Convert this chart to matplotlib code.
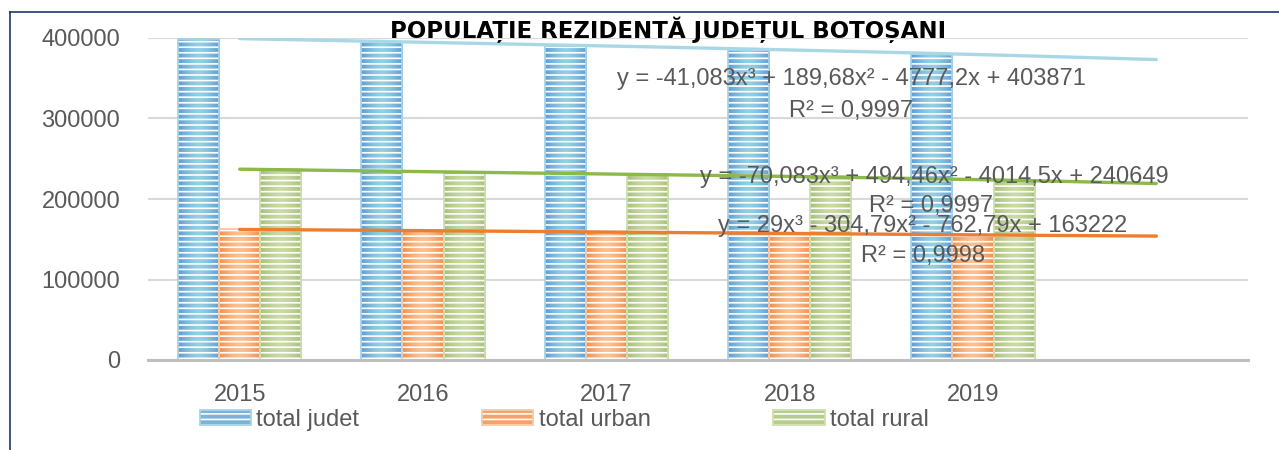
import matplotlib
matplotlib.use('Agg')
import matplotlib.pyplot as plt
from matplotlib.patches import Patch
from matplotlib.lines import Line2D
from matplotlib.colors import LinearSegmentedColormap
import numpy as np

plt.rcParams['font.family'] = ['Liberation Sans', 'DejaVu Sans']
plt.rcParams['hatch.linewidth'] = 1.2

# ---------------- data ----------------
years = ['2015', '2016', '2017', '2018', '2019']
total_judet = [399242, 394747, 390137, 385168, 379592]
total_urban = [162183, 160709, 158974, 157150, 155413]
total_rural = [237059, 234037, 231163, 228017, 224178]
series_names = ['total judet', 'total urban', 'total rural']
eq_judet = 'y = -41,083x³ + 189,68x² - 4777,2x + 403871'
eq_rural = 'y = -70,083x³ + 494,46x² - 4014,5x + 240649'
eq_urban = 'y = 29x³ - 304,79x² - 762,79x + 163222'
r2_judet = 'R² = 0,9997'
r2_rural = 'R² = 0,9997'
r2_urban = 'R² = 0,9998'
yticks = [0, 100000, 200000, 300000, 400000]
title = 'POPULAȚIE REZIDENTĂ JUDEȚUL BOTOȘANI'

# ---------------- layout helpers ----------------
W, H = 1279, 450
fig = plt.figure(figsize=(W / 100, H / 100), dpi=100)
fig.patch.set_facecolor('white')


def fx(px):
    return px / W


def fy(py):
    return 1 - py / H


ax = fig.add_axes([fx(148), fy(360), fx(1248) - fx(148), fy(38) - fy(360)])

faces = ['#79B4DC', '#F6A265', '#B8CD8C']
grad_edge = ['#5F9BD4', '#F08F4C', '#A7BF7A']
grad_mid = ['#93D0E2', '#FBC192', '#CADBA5']
outlines = ['#A4D4E6', '#F8C9A6', '#CDE0AE']
trend_colors = ['#A8D8E6', '#ED7D31', '#8DB84A']
text_color = '#595959'

series = [total_judet, total_urban, total_rural]
n_cat = 6  # one extra slot for the forward forecast of the trend lines
idx = np.arange(len(years))
bw = 0.2237
offsets = [-bw, 0, bw]

grad = np.abs(np.linspace(-1, 1, 64))[None, :]
grad = 1 - grad ** 1.5

for vals, off, fc, ge, gm, oc in zip(series, offsets, faces, grad_edge,
                                      grad_mid, outlines):
    cmap = LinearSegmentedColormap.from_list('g', [ge, gm])
    bars = ax.bar(idx + off, vals, width=bw, color=fc, linewidth=0, zorder=2)
    for r in bars:
        x0, w_, h_ = r.get_x(), r.get_width(), r.get_height()
        im = ax.imshow(grad, extent=[x0, x0 + w_, 0, h_], aspect='auto',
                       cmap=cmap, vmin=0, vmax=1, zorder=2.05,
                       interpolation='bilinear')
        im.set_clip_path(r)
    ax.bar(idx + off, vals, width=bw, fill=False, edgecolor='white',
           hatch='---', linewidth=0, zorder=2.1)
    ax.bar(idx + off, vals, width=bw, fill=False, edgecolor=oc, linewidth=1.3,
           zorder=2.2)

# polynomial (order 3) trend lines, forecast forward one period
xd = np.arange(1, len(years) + 1)
xt = np.linspace(1, len(years) + 1, 200)
for vals, tc in zip(series, trend_colors):
    coef = np.polyfit(xd, vals, 3)
    ax.plot(xt - 1, np.polyval(coef, xt), color=tc, lw=2.4,
            solid_capstyle='round', zorder=3)

ax.set_xlim(-0.5, n_cat - 0.5)
ax.set_ylim(0, 400000)
ax.set_yticks(yticks)
ax.set_yticklabels([str(v) for v in yticks])
ax.set_xticks(idx)
ax.set_xticklabels(years)
ax.tick_params(axis='both', length=0, labelsize=17, labelcolor=text_color)
ax.tick_params(axis='y', pad=20)
ax.tick_params(axis='x', pad=17)
ax.grid(axis='y', color='#D9D9D9', lw=1.5, zorder=0)
ax.set_axisbelow(True)
for s in ['left', 'right', 'top']:
    ax.spines[s].set_visible(False)
ax.spines['bottom'].set_color('#BFBFBF')
ax.spines['bottom'].set_linewidth(2.2)
ax.spines['bottom'].set_zorder(2.5)

# equation labels
for txt, cx, by in [(eq_judet, 851, 85), (r2_judet, 851, 117),
                    (eq_rural, 934, 183), (r2_rural, 931, 212),
                    (eq_urban, 923, 232), (r2_urban, 923, 262)]:
    fig.text(fx(cx), fy(by), txt, ha='center', va='baseline', fontsize=17,
             color=text_color, zorder=5)

# title
fig.text(fx(668), fy(38), title, ha='center', va='baseline', fontsize=16.5,
         fontweight='bold', family='DejaVu Sans', color='black')

# legend
handles = [(Patch(facecolor=fc, linewidth=0),
            Patch(fill=False, edgecolor='white', hatch='---', linewidth=0),
            Patch(fill=False, edgecolor=oc, linewidth=1.3))
           for fc, oc in zip(faces, outlines)]
leg = fig.legend(handles, series_names, loc='center left',
                 bbox_to_anchor=(fx(200), fy(420)), ncol=3, frameon=False,
                 fontsize=17, handlelength=2.17, handleheight=0.63,
                 handletextpad=0.22, columnspacing=5.2, borderpad=0,
                 borderaxespad=0)
for t in leg.get_texts():
    t.set_color(text_color)

# frame lines of the chart box (left and top only visible)
fig.add_artist(Line2D([fx(10), fx(10)], [fy(12), fy(450)], color='#1F3864', lw=1.2))
fig.add_artist(Line2D([fx(10), fx(1279)], [fy(12), fy(12)], color='#1F3864', lw=1.2))

fig.savefig('out.png', dpi=100)
